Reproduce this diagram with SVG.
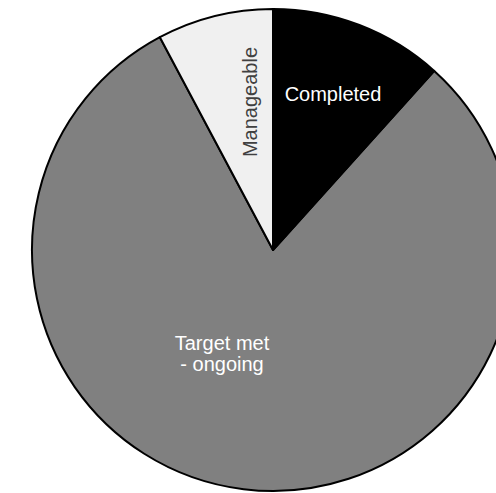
<svg xmlns="http://www.w3.org/2000/svg" width="496" height="493" viewBox="0 0 496 493">
<style>
.slice{stroke:#000;stroke-width:2;stroke-linejoin:round}
.lbl{font-family:"Liberation Sans",Arial,sans-serif;font-size:20px}
</style>
<rect width="496" height="493" fill="#fff"/>
<g id="target">
<path class="slice" fill="#808080" d="M273,250 L434.26,70.9 A241,241 0 1 1 159.86,37.21 Z"/>
<text class="lbl" fill="#fff" text-anchor="middle" x="222" y="350">Target met</text>
<text class="lbl" fill="#fff" text-anchor="middle" x="222" y="371">- ongoing</text>
</g>
<g id="completed">
<path class="slice" fill="#000" d="M273,250 L273,9 A241,241 0 0 1 434.26,70.9 Z"/>
<text class="lbl" fill="#fff" text-anchor="middle" x="333" y="101">Completed</text>
</g>
<g id="manageable">
<path class="slice" fill="#f0f0f0" d="M273,250 L159.86,37.21 A241,241 0 0 1 273,9 Z"/>
<text class="lbl" fill="#404040" text-anchor="middle" transform="translate(257,102) rotate(-90)">Manageable</text>
</g>
</svg>
